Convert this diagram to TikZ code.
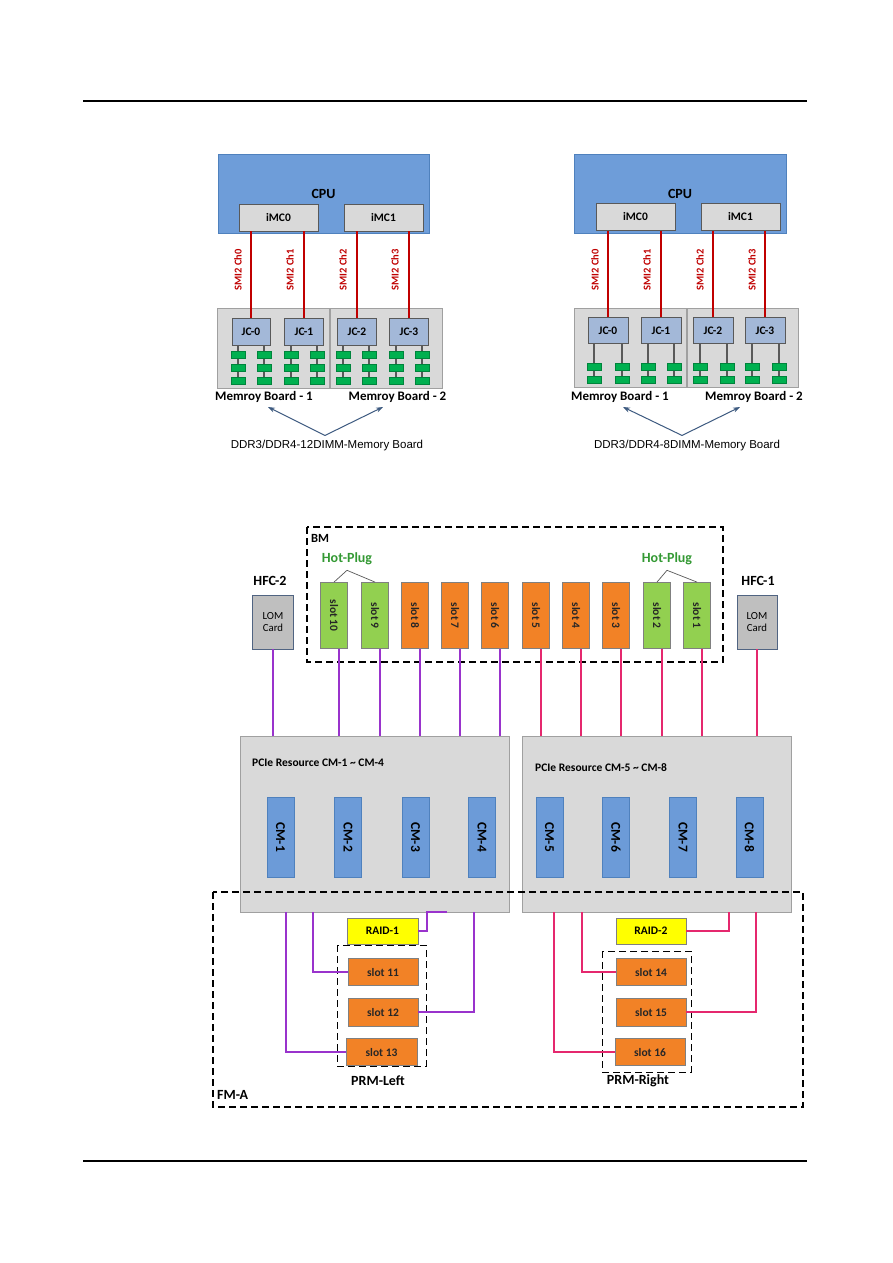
\documentclass[tikz,border=0pt]{standalone}
\usepackage{fontspec}
\usepackage{graphicx}
\setmainfont{Carlito}
\newfontfamily\arialf{Liberation Sans}
\usetikzlibrary{arrows.meta,calc}
\definecolor{cpublue}{RGB}{110,157,217}
\definecolor{cpuborder}{RGB}{79,129,189}
\definecolor{lgray}{RGB}{217,217,217}
\definecolor{mgray}{RGB}{160,160,160}
\definecolor{dgray}{RGB}{89,89,89}
\definecolor{jcblue}{RGB}{163,184,216}
\definecolor{dimmgreen}{RGB}{0,176,80}
\definecolor{smired}{RGB}{192,0,0}
\definecolor{arrowblue}{RGB}{61,90,128}
\definecolor{slotorange}{RGB}{242,130,38}
\definecolor{slotgreen}{RGB}{146,208,80}
\definecolor{hpgreen}{RGB}{51,153,51}
\definecolor{lomgray}{RGB}{191,191,191}
\definecolor{lomborder}{RGB}{80,100,130}
\definecolor{cmblue}{RGB}{108,155,216}
\definecolor{cmborder}{RGB}{79,129,189}
\definecolor{purp}{RGB}{153,51,204}
\definecolor{pinkl}{RGB}{229,40,110}
\definecolor{raidyellow}{RGB}{255,255,0}
\tikzset{
  cpubox/.style={draw=cpuborder, fill=cpublue, line width=1pt, inner sep=0, font=\fontsize{14}{16}\selectfont\bfseries},
  imcbox/.style={draw=dgray, fill=lgray, line width=0.8pt, inner sep=0, minimum width=79pt, minimum height=27pt, font=\fontsize{11.5}{13}\selectfont\bfseries},
  boardbox/.style={draw=mgray, fill=lgray, line width=0.8pt, inner sep=0, minimum width=112pt, minimum height=80pt},
  jcbox/.style={draw=dgray, fill=jcblue, line width=0.8pt, inner sep=0, minimum width=39pt, minimum height=27pt, font=\fontsize{11.5}{13}\selectfont\bfseries},
  dimm/.style={draw=dimmgreen!75!black, fill=dimmgreen, line width=0.4pt, inner sep=0, minimum width=14pt, minimum height=7pt},
  smiline/.style={smired, line width=1.8pt},
  smilabel/.style={text=smired, rotate=90, inner sep=0, font=\fontsize{10.5}{12}\selectfont\bfseries},
  dimmline/.style={dgray, line width=1.2pt},
  mblabel/.style={inner sep=0, font=\fontsize{13}{15}\selectfont\bfseries},
  ddrlabel/.style={inner sep=0, font=\arialf\fontsize{11.5}{13}\selectfont},
  marrow/.style={arrowblue, line width=1pt, -{Stealth[length=7pt,width=5pt]}},
  dashbox/.style={draw=black, line width=1.2pt, dash pattern=on 7pt off 4pt},
  boldlabel/.style={inner sep=0, font=\fontsize{14}{16}\selectfont\bfseries},
  hplabel/.style={inner sep=0, text=hpgreen, font=\fontsize{14}{16}\selectfont\bfseries},
  hpline/.style={dgray, line width=0.7pt},
  slotbox/.style={draw=gray, line width=0.8pt, inner sep=0, minimum width=27pt, minimum height=66pt, text=black!85, font=\fontsize{11.5}{13}\selectfont\bfseries},
  lombox/.style={draw=lomborder, fill=lomgray, line width=0.8pt, inner sep=0, minimum width=41pt, minimum height=54pt, align=center, font=\fontsize{10.8}{12}\selectfont},
  cmgroup/.style={draw=mgray, fill=lgray, line width=0.8pt, inner sep=0, minimum width=269pt, minimum height=176pt},
  cmbox/.style={draw=cmborder, fill=cmblue, line width=0.6pt, inner sep=0, minimum width=27pt, minimum height=80pt, font=\fontsize{13.5}{15}\selectfont\bfseries},
  pcielabel/.style={inner sep=0, anchor=west, font=\fontsize{11.5}{13}\selectfont\bfseries},
  pline/.style={purp, line width=1.8pt},
  kline/.style={pinkl, line width=1.8pt},
  raidbox/.style={draw=gray, fill=raidyellow, line width=0.8pt, inner sep=0, minimum width=71pt, minimum height=26pt, font=\fontsize{11.5}{13}\selectfont\bfseries},
  bslot/.style={draw=gray, fill=slotorange, line width=0.8pt, inner sep=0, minimum width=70pt, minimum height=27pt, text=black!85, font=\fontsize{11.5}{13}\selectfont\bfseries},
}
\begin{document}
\begin{tikzpicture}[x=1pt,y=-1pt]
\fill[white] (0,0) rectangle (893,1263);
\useasboundingbox (0,0) rectangle (893,1263);

% header / footer rules
\coordinate (hdrL) at (83,101); \coordinate (hdrR) at (807,101);
\coordinate (ftrL) at (83,1161); \coordinate (ftrR) at (807,1161);
\draw[line width=1.2pt] (hdrL) -- (hdrR);
\draw[line width=1.2pt] (ftrL) -- (ftrR);

% ================= top-left: 12 DIMM =================
\node[cpubox, minimum width=211pt, minimum height=79pt] (cpuL) at (323.5,193.5) {CPU};
\node[imcbox] (imcL0) at (278.5,217.5) {iMC0};
\node[imcbox] (imcL1) at (383.5,217.5) {iMC1};
\node[boardbox] (mbL1box) at (273,348) {};
\node[boardbox] (mbL2box) at (386,348) {};
\node[jcbox, minimum width=38pt] (jcL0) at (251,331.5) {JC-0};
\node[jcbox] (jcL1) at (304,331.5) {JC-1};
\node[jcbox] (jcL2) at (357,331.5) {JC-2};
\node[jcbox] (jcL3) at (409,331.5) {JC-3};
\draw[smiline] (jcL0.north) -- (jcL0.north |- imcL0.south);
\draw[smiline] (jcL1.north) -- (jcL1.north |- imcL0.south);
\draw[smiline] (jcL2.north) -- (jcL2.north |- imcL1.south);
\draw[smiline] (jcL3.north) -- (jcL3.north |- imcL1.south);
\node[smilabel] (smiL0) at (238,270) {SMI2 Ch0};
\node[smilabel] (smiL1) at (290,270) {SMI2 Ch1};
\node[smilabel] (smiL2) at (343,270) {SMI2 Ch2};
\node[smilabel] (smiL3) at (395,270) {SMI2 Ch3};
\foreach \x/\jc [count=\i] in {238/jcL0,264/jcL0,291/jcL1,317/jcL1,343/jcL2,369/jcL2,396/jcL3,422/jcL3} {
  \coordinate (cL-\i) at (\x,381);
  \draw[dimmline] (\jc.south -| cL-\i) -- (cL-\i);
  \foreach \y [count=\j] in {355,368,381} {
    \node[dimm] (dL-\i-\j) at (\x,\y) {};
  }
}
\node[mblabel] (mbL1) at (264,397) {Memroy Board - 1};
\node[mblabel] (mbL2) at (397.5,397) {Memroy Board - 2};
\node[ddrlabel] (ddrL) at (327,446) {DDR3/DDR4-12DIMM-Memory Board};
\coordinate (tL1) at (268,407); \coordinate (tL2) at (383,407);
\draw[marrow] ([xshift=-2pt,yshift=5pt]ddrL.north) -- (tL1);
\draw[marrow] ([xshift=-2pt,yshift=5pt]ddrL.north) -- (tL2);

% ================= top-right: 8 DIMM =================
\node[cpubox, minimum width=212pt, minimum height=79pt] (cpuR) at (680,193.5) {CPU};
\node[imcbox] (imcR0) at (635.5,217) {iMC0};
\node[imcbox] (imcR1) at (740.5,217) {iMC1};
\node[boardbox, minimum height=79pt] (mbR1box) at (630,347.5) {};
\node[boardbox, minimum width=111pt, minimum height=79pt] (mbR2box) at (742.5,347.5) {};
\node[jcbox, minimum width=40pt, minimum height=26pt] (jcR0) at (608,330.5) {JC-0};
\node[jcbox, minimum width=40pt, minimum height=26pt] (jcR1) at (661,330.5) {JC-1};
\node[jcbox, minimum width=40pt, minimum height=26pt] (jcR2) at (713,330.5) {JC-2};
\node[jcbox, minimum width=40pt, minimum height=26pt] (jcR3) at (765,330.5) {JC-3};
\draw[smiline] (jcR0.north) -- (jcR0.north |- imcR0.south);
\draw[smiline] (jcR1.north) -- (jcR1.north |- imcR0.south);
\draw[smiline] (jcR2.north) -- (jcR2.north |- imcR1.south);
\draw[smiline] (jcR3.north) -- (jcR3.north |- imcR1.south);
\node[smilabel] (smiR0) at (595,270) {SMI2 Ch0};
\node[smilabel] (smiR1) at (647,270) {SMI2 Ch1};
\node[smilabel] (smiR2) at (700,270) {SMI2 Ch2};
\node[smilabel] (smiR3) at (752,270) {SMI2 Ch3};
\foreach \x/\jc [count=\i] in {594/jcR0,622/jcR0,648/jcR1,674/jcR1,700/jcR2,727/jcR2,752/jcR3,779/jcR3} {
  \coordinate (cR-\i) at (\x,380);
  \draw[dimmline] (\jc.south -| cR-\i) -- (cR-\i);
  \foreach \y [count=\j] in {367,380} {
    \node[dimm] (dR-\i-\j) at (\x,\y) {};
  }
}
\node[mblabel] (mbR1) at (620,397) {Memroy Board - 1};
\node[mblabel] (mbR2) at (754,397) {Memroy Board - 2};
\node[ddrlabel] (ddrR) at (687,446) {DDR3/DDR4-8DIMM-Memory Board};
\coordinate (tR1) at (623,407); \coordinate (tR2) at (740,407);
\draw[marrow] ([xshift=-5pt,yshift=5pt]ddrR.north) -- (tR1);
\draw[marrow] ([xshift=-5pt,yshift=5pt]ddrR.north) -- (tR2);

% ================= bottom: PCIe topology =================
\draw[dashbox] (307,527) rectangle (723,662);
\node[inner sep=0, anchor=west, font=\fontsize{12.5}{14}\selectfont\bfseries] (bmlabel) at (311,538) {BM};
\node[hplabel] (hpL) at (347,559) {Hot-Plug};
\node[hplabel] (hpR) at (667,559) {Hot-Plug};
\foreach \n/\t/\c/\x in {s10/slot 10/slotgreen/334, s9/slot 9/slotgreen/375, s8/slot 8/slotorange/415, s7/slot 7/slotorange/455, s6/slot 6/slotorange/495, s5/slot 5/slotorange/536, s4/slot 4/slotorange/576, s3/slot 3/slotorange/616, s2/slot 2/slotgreen/657, s1/slot 1/slotgreen/697} {
  \node[slotbox, fill=\c] (\n) at (\x,615.5) {\rotatebox{-90}{\t}};
}
\draw[hpline] ([yshift=-5pt]hpL.south) -- (s10.north);
\draw[hpline] ([yshift=-5pt]hpL.south) -- (s9.north);
\draw[hpline] ([yshift=-5pt]hpR.south) -- (s2.north);
\draw[hpline] ([yshift=-5pt]hpR.south) -- (s1.north);

\node[boldlabel] (hfc2) at (270,581) {HFC-2};
\node[lombox] (lomL) at (273,622) {LOM\\Card};
\node[boldlabel] (hfc1) at (758,581) {HFC-1};
\node[lombox, minimum width=40pt] (lomR) at (757,622) {LOM\\Card};

\node[cmgroup] (cmL) at (374.5,824) {};
\node[cmgroup] (cmR) at (656.5,824) {};
\node[pcielabel] (pcieL) at (252,763) {PCIe Resource CM-1 \textasciitilde\ CM-4};
\node[pcielabel] (pcieR) at (535,768) {PCIe Resource CM-5 \textasciitilde\ CM-8};
\foreach \n/\t/\x in {cm1/CM-1/280.5, cm2/CM-2/348, cm3/CM-3/415.5, cm4/CM-4/482, cm5/CM-5/549.5, cm6/CM-6/616, cm7/CM-7/683, cm8/CM-8/749.5} {
  \node[cmbox] (\n) at (\x,837) {\rotatebox{-90}{\t}};
}

% BM -> CM connections
\draw[pline] (lomL.south) -- (lomL.south |- cmL.north);
\foreach \n in {s10,s9,s8,s7,s6}
  \draw[pline] ([xshift=5pt]\n.south) -- ([xshift=5pt]\n.south |- cmL.north);
\foreach \n in {s5,s4,s3,s2,s1}
  \draw[kline] ([xshift=5pt]\n.south) -- ([xshift=5pt]\n.south |- cmR.north);
\draw[kline] (lomR.south) -- (lomR.south |- cmR.north);

% FM-A
\draw[dashbox] (213,892) rectangle (803,1107);
\node[boldlabel, anchor=west] (fma) at (217,1095) {FM-A};

% PRM-Left
\draw[dashbox, line width=1pt] (337,945) rectangle (426,1066);
\node[raidbox] (raid1) at (382.5,931) {RAID-1};
\node[bslot] (s11) at (383,972) {slot 11};
\node[bslot, minimum height=28pt] (s12) at (383,1012) {slot 12};
\node[bslot, minimum width=71pt] (s13) at (381.5,1052) {slot 13};
\node[boldlabel] (prml) at (378,1081) {PRM-Left};
\coordinate (cLb1) at (286,912);
\coordinate (cLb2) at (313,912);
\coordinate (cLb3) at (427,912);
\coordinate (cLb3e) at (447,912);
\coordinate (cLb4) at (474,912);
\draw[pline] (s13.west) -| (cLb1);
\draw[pline] (s11.west) -| (cLb2);
\draw[pline] (raid1.east) -| (cLb3) -- (cLb3e);
\draw[pline] (s12.east) -| (cLb4);

% PRM-Right
\draw[dashbox, line width=1pt] (602,951) rectangle (691,1072);
\node[raidbox, minimum width=70pt] (raid2) at (651,931) {RAID-2};
\node[bslot] (s14) at (651,972) {slot 14};
\node[bslot, minimum height=28pt] (s15) at (651,1012) {slot 15};
\node[bslot] (s16) at (650,1052) {slot 16};
\node[boldlabel] (prmr) at (638,1081) {PRM-Right};
\coordinate (cRb1) at (554,912);
\coordinate (cRb2) at (582,912);
\coordinate (cRb3) at (729,912);
\coordinate (cRb4) at (756,912);
\draw[kline] (s16.west) -| (cRb1);
\draw[kline] (s14.west) -| (cRb2);
\draw[kline] (raid2.east) -| (cRb3);
\draw[kline] (s15.east) -| (cRb4);
\end{tikzpicture}
\end{document}
